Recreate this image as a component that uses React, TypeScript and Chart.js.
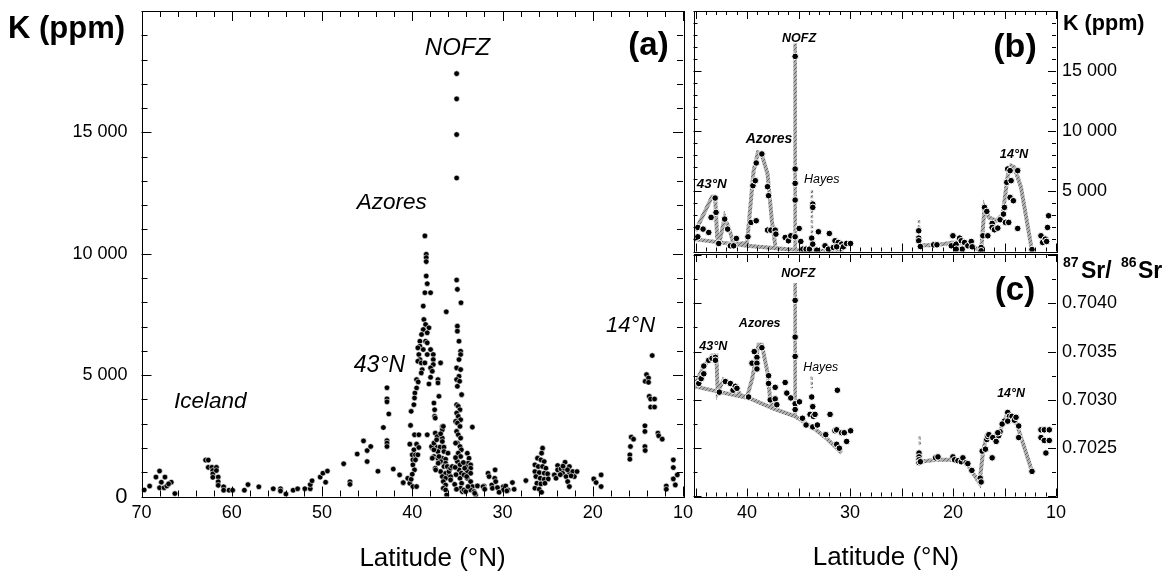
import React, { useEffect, useRef } from 'react';
import { Chart, registerables } from 'chart.js';
Chart.register(...registerables);

const FONT = "'Liberation Sans', Arial, Helvetica, sans-serif";
const W = 1172;
const H = 576;

type P = [number, number];

// ---------- Panel (a): K (ppm) vs latitude ----------
const icelandA: P[] = [
  [69.7, 270], [69.1, 430], [68.4, 800], [68.0, 1050], [67.8, 590], [68.0, 360], [67.5, 360], [67.4, 800],
  [67.2, 430], [66.7, 590], [67.0, 520], [66.3, 120],
  [62.9, 1500], [62.6, 1500], [62.6, 1200], [62.2, 1200], [62.1, 1070], [62.1, 930], [62.1, 790], [61.7, 1200],
  [61.7, 1070], [61.5, 800], [61.5, 610], [61.5, 460], [60.9, 400], [60.9, 260], [60.3, 260], [59.9, 260],
  [58.6, 260], [58.2, 490], [57.0, 400], [55.4, 320], [54.6, 320], [54.6, 230], [54.0, 100], [53.2, 260],
  [52.7, 320], [51.9, 320], [51.3, 320], [51.3, 490], [51.1, 650], [50.2, 800], [49.9, 960], [49.4, 1050], [49.6, 590],
];
const northA: P[] = [
  [47.6, 1350], [46.9, 610], [46.9, 500], [46.1, 1750], [45.4, 2290], [45.0, 1890], [44.6, 2060], [45.0, 1440],
  [43.8, 1040], [43.2, 2840], [42.8, 4480], [42.8, 4020], [42.8, 3900], [42.6, 3400], [42.8, 2300], [42.8, 2200],
  [42.8, 2060], [42.1, 1130], [41.4, 890], [41.0, 570], [40.5, 750], [40.27, 546], [40.12, 712], [39.93, 409], [39.52, 409],
  [39.52, 4815], [39.34, 4719], [39.52, 4471], [39.71, 4264], [39.75, 4058], [39.82, 3782], [40.12, 3507], [40.19, 2929],
  [39.75, 2543], [39.27, 2543], [40.27, 2157], [39.52, 2157], [39.27, 2020], [39.82, 1923], [40.0, 1717], [39.64, 1717],
  [39.38, 1717], [39.93, 1510], [39.64, 1510], [39.93, 1304], [39.75, 1097], [40.0, 918],
];
const azoresA: P[] = [
  [38.6, 10736], [38.45, 9979], [38.45, 9841], [38.45, 9676], [38.45, 9084],
  [38.34, 8767], [38.6, 8395], [37.97, 8395], [38.78, 7844], [38.71, 7294], [38.52, 7087], [38.15, 6949], [38.78, 6880],
  [38.34, 6743], [38.97, 6674], [39.15, 6398], [38.52, 6398], [38.34, 6330], [39.15, 6192], [39.38, 6123], [38.78, 6054],
  [39.27, 5848], [39.15, 5641], [38.34, 5848], [37.97, 6054], [39.38, 5572], [39.0, 5503], [38.6, 5503], [37.67, 5848],
  [37.67, 5641], [37.67, 5435], [38.9, 5228], [39.0, 5090], [37.97, 5297], [37.78, 5159], [37.97, 4912], [37.15, 4815],
  [38.15, 4636], [37.15, 4678], [36.86, 5503], [37.04, 4127], [37.6, 3851], [37.52, 3576], [37.52, 3300], [37.45, 3230],
  [38.34, 2543], [36.23, 7610],
];
const azoresLowA: P[] = [
  [37.45, 2611], [37.23, 2473], [36.67, 2886], [36.67, 2748], [36.67, 2404], [36.67, 2267], [37.23, 1997], [37.45, 2060],
  [36.93, 2032], [36.49, 2032], [37.78, 1991], [37.16, 1853], [36.49, 1853], [37.6, 1647], [37.16, 1578], [36.67, 1578],
  [36.3, 1537], [36.86, 1440], [36.3, 1371], [37.45, 1165], [36.49, 1234], [36.12, 1234], [36.86, 1027], [36.3, 958],
  [35.93, 889], [36.67, 821], [36.3, 752], [35.75, 821], [36.56, 614], [36.3, 476], [36.56, 339], [36.3, 270], [36.19, 63],
  [37.86, 2061], [37.6, 2199], [37.3, 2336], [36.56, 2887], [36.86, 2584], [37.04, 1648], [36.12, 1235], [37.41, 1097],
  [35.93, 1028], [35.75, 1166], [35.56, 1235], [35.75, 684], [36.04, 1786], [37.12, 1373], [37.78, 1579], [37.6, 1923],
];
const nofzA: P[] = [
  [35.08, 17420], [35.08, 16380], [35.08, 14910], [35.08, 13120],
  [35.08, 8918], [35.0, 8533], [34.6, 7982], [35.0, 7018], [35.0, 6812], [34.82, 6398], [34.64, 5985], [34.64, 5848],
  [34.82, 5641], [35.08, 5297], [34.64, 5228], [34.82, 4953], [35.08, 4815], [34.75, 4746], [35.0, 4540], [34.53, 4196],
  [35.08, 3782], [34.9, 3713], [34.71, 3576], [35.08, 3438], [34.9, 3300], [34.64, 3163], [35.19, 3094], [35.0, 3025],
  [34.71, 2887], [35.08, 2681], [34.9, 2543], [34.64, 2405], [35.0, 2199], [34.71, 2061], [34.56, 1923], [34.9, 1786],
  [34.64, 1648], [35.0, 1441], [34.71, 1304], [34.82, 1097], [34.56, 960], [34.71, 753], [34.53, 546], [34.64, 340],
  [34.45, 202], [35.2, 1600], [35.25, 1200], [35.15, 900], [35.3, 500], [35.1, 300], [35.2, 2200],
];
const nofzLowA: P[] = [
  [33.9, 1784], [33.71, 1578], [33.82, 1371], [33.53, 1302], [34.08, 1234], [33.53, 1165], [33.9, 1027], [33.53, 958],
  [34.27, 889], [33.9, 752], [33.53, 614], [33.34, 407], [34.27, 270], [33.53, 270], [34.08, 201], [33.16, 201],
  [32.97, 63], [33.34, 2858], [34.34, 1400], [34.19, 1166], [33.97, 822], [33.82, 409], [32.78, 436], [33.08, 133],
];
const midA: P[] = [
  [32.04, 435], [32.04, 339], [31.6, 958], [31.49, 821], [31.19, 476], [30.86, 752], [30.75, 614], [31.12, 339],
  [30.56, 366], [29.9, 407], [29.9, 270], [29.64, 435], [29.38, 270], [28.9, 573], [28.71, 297], [27.41, 655],
  [32.15, 408], [31.97, 298], [30.82, 1097], [30.38, 175], [29.52, 230],
];
const southA: P[] = [
  [25.56, 1992], [25.67, 1786], [26.12, 1579], [25.75, 1510], [25.38, 1441], [26.41, 1304], [26.04, 1235], [25.56, 1235],
  [25.19, 1166], [26.41, 1028], [25.93, 987], [25.38, 960], [25.0, 932], [26.3, 822], [25.82, 753], [25.38, 712],
  [24.93, 725], [26.19, 546], [25.75, 519], [25.3, 546], [26.41, 340], [25.93, 298], [25.67, 175],
  [24.26, 890], [23.89, 1275], [23.89, 1097], [24.07, 752], [23.52, 1138], [23.33, 958], [23.07, 1413], [23.15, 1165],
  [22.96, 821], [22.59, 1234], [22.59, 1000], [22.78, 614], [22.59, 408], [22.22, 1028], [22.04, 821], [21.74, 1028],
  [23.6, 900], [23.3, 1250], [22.8, 1100], [22.4, 850],
  [19.89, 724], [19.63, 573], [19.07, 890], [19.07, 408],
  [15.89, 1716], [15.89, 1537], [15.82, 2060], [15.74, 2446], [15.48, 2363], [14.22, 2914], [14.22, 2680], [14.22, 2060],
  [14.19, 1895], [14.19, 4745], [14.04, 5021], [13.82, 4883], [13.82, 4704], [13.74, 4126], [13.59, 4016], [13.15, 4016],
  [13.59, 3685], [13.15, 3685], [13.41, 5806], [12.78, 2611], [12.7, 2501], [12.3, 2363],
  [11.85, 435], [11.85, 298], [11.07, 1509], [11.07, 1193], [11.07, 725], [10.85, 477], [10.63, 890],
];

// ---------- Panel (b): K (ppm), smoothed ----------
const pointsB: P[] = [
  [44.78, 2000], [44.78, 1222], [44.27, 1862], [43.72, 1584], [43.49, 2834], [43.1, 4445], [43.01, 3251], [42.75, 667],
  [42.17, 2695], [41.88, 1862], [41.62, 473], [41.3, 473], [41.04, 1084], [39.91, 1222], [39.62, 2417], [39.11, 2556],
  [39.43, 5473], [39.2, 5890], [39.11, 7362], [38.56, 8112], [38.01, 5390], [37.91, 4640], [38.01, 1778], [37.69, 1778],
  [37.27, 1778], [37.2, 1445], [36.3, 1167], [35.98, 890], [35.75, 1306], [35.33, 16224], [35.33, 6862], [35.33, 5668],
  [35.33, 4279], [35.33, 1222], [34.94, 1917], [34.78, 834], [34.59, 195], [34.27, 195], [33.94, 195], [33.62, 3945],
  [33.62, 3668], [33.72, 1111], [33.62, 612], [33.23, 112], [33.07, 1640], [32.43, 473], [32.01, 1500], [32.1, 195],
  [31.62, 334], [31.46, 890], [31.14, 751], [30.81, 612], [30.65, 390], [30.33, 668], [31.3, 390], [29.95, 668],
  [23.33, 1723], [23.33, 1112], [23.33, 890], [23.17, 417], [21.88, 556], [21.56, 556], [20.01, 1306], [20.17, 472],
  [19.69, 612], [19.36, 1112], [19.2, 890], [18.88, 751], [18.56, 472], [19.11, 195], [19.69, 195], [18.23, 834],
  [18.14, 389], [17.27, 334], [17.27, 60], [16.94, 3668], [16.72, 3334], [17.1, 1306], [16.62, 1306], [16.2, 2335],
  [16.2, 2000], [15.98, 1807], [15.65, 1945], [15.43, 2640], [15.1, 3112], [15.01, 3668], [14.91, 2418], [14.78, 5751],
  [14.69, 6862], [14.46, 6723], [14.36, 5890], [14.46, 4501], [14.59, 2418], [14.14, 4223], [13.72, 6723], [13.72, 1918],
  [12.33, 167], [11.46, 1306], [11.3, 751], [11.04, 1028], [10.82, 2000], [10.72, 2973], [10.91, 834],
];
const baselineB: P[] = [[45.2, 1030], [40.0, 480], [35.2, 120], [30.6, 0]];
const envelopeB: P[] = [
  [45.0, 1724], [43.4, 4560], [43.1, 4560], [42.9, 1170], [42.65, 890], [42.17, 2835], [41.68, 1724], [41.3, 612],
  [40.0, 700], [39.36, 6724], [38.94, 8252], [38.62, 8196], [38.01, 6446], [37.59, 2557], [37.26, 474],
];
const nofzLineB: P[] = [[35.33, 150], [35.33, 17300]];
const hayesLineB: P[] = [[33.7, 5100], [33.7, 1400]];
const tick23B: P[] = [[23.3, 2600], [23.3, 900]];
const southLineB: P[] = [
  [23.3, 520], [21.7, 520], [20.0, 750], [18.5, 600], [17.27, 40], [16.94, 3668], [16.52, 2834], [15.8, 2556],
  [15.17, 3112], [14.69, 6307], [14.36, 7140], [14.04, 7001], [13.4, 5334], [12.33, 56],
];

// ---------- Panel (c): 87Sr/86Sr ----------
const pointsC: P[] = [
  [44.69, 0.70317], [44.46, 0.70322], [44.2, 0.70327], [44.2, 0.70335], [43.72, 0.70341], [43.4, 0.70343], [43.07, 0.70344],
  [43.07, 0.70341], [42.69, 0.70308], [42.11, 0.70319], [41.62, 0.70317], [41.36, 0.7031], [41.14, 0.70314], [40.98, 0.70312],
  [39.85, 0.70303], [39.52, 0.70338], [39.3, 0.7035], [39.04, 0.70344], [39.04, 0.70338], [39.04, 0.70332], [38.56, 0.70354],
  [37.91, 0.70325], [37.91, 0.70317], [37.27, 0.70313], [37.75, 0.703], [37.27, 0.70301], [37.11, 0.70295], [36.3, 0.70318],
  [36.14, 0.70307], [35.75, 0.70302], [35.33, 0.70296], [35.33, 0.7029], [35.33, 0.70403], [35.33, 0.70365], [35.33, 0.70345],
  [34.91, 0.70298], [34.62, 0.70281], [34.27, 0.70274], [33.72, 0.70303], [33.62, 0.70293], [33.88, 0.70285], [33.56, 0.70283],
  [33.4, 0.70285], [33.62, 0.70272], [33.17, 0.70274], [32.36, 0.70264], [31.94, 0.70285], [31.46, 0.70268], [31.3, 0.70269],
  [31.23, 0.7031], [31.3, 0.70254], [31.04, 0.7025], [30.81, 0.70266], [30.56, 0.70266], [30.33, 0.70257], [29.94, 0.70268],
  [23.3, 0.70245], [23.3, 0.70241], [23.3, 0.70238], [23.3, 0.70235], [23.17, 0.70236], [21.69, 0.7024], [21.46, 0.70241],
  [20.01, 0.70241], [19.85, 0.70238], [19.52, 0.70237], [19.2, 0.70236], [19.04, 0.7024], [18.72, 0.70235], [18.56, 0.70234],
  [18.17, 0.70227], [17.36, 0.70219], [17.27, 0.70215], [17.17, 0.70247], [16.85, 0.70249], [16.2, 0.7024], [16.72, 0.70259],
  [16.62, 0.70262], [16.52, 0.70264], [16.14, 0.70261], [15.81, 0.70257], [15.56, 0.70263], [15.43, 0.70267], [15.65, 0.70266],
  [15.01, 0.70278], [14.69, 0.70287], [14.52, 0.70283], [14.27, 0.70283], [14.04, 0.70279], [13.88, 0.70282], [13.62, 0.70273],
  [13.62, 0.70261], [15.23, 0.70275], [14.69, 0.70278], [12.33, 0.70226], [11.46, 0.70269], [11.14, 0.70269], [10.65, 0.70269],
  [11.46, 0.70261], [11.14, 0.70258], [10.65, 0.70258], [10.98, 0.70245],
];
const baselineC: P[] = [
  [45.1, 0.70314], [42.59, 0.70308], [39.85, 0.70302], [37.43, 0.70291], [35.33, 0.70283], [33.56, 0.70271],
  [32.27, 0.7026], [30.81, 0.70245],
];
const envelopeC: P[] = [
  [44.91, 0.70319], [44.2, 0.70335], [43.4, 0.70346], [42.98, 0.70346], [42.85, 0.70308], [42.27, 0.70321], [41.14, 0.70314],
  [40.65, 0.70305], [40.01, 0.70303], [39.52, 0.70321], [38.88, 0.70357], [38.56, 0.70357], [38.01, 0.70328], [37.75, 0.703],
  [37.43, 0.70291],
];
const nofzLineC: P[] = [[35.33, 0.70421], [35.33, 0.70283]];
const hayesLineC: P[] = [[33.72, 0.70324], [33.72, 0.70312]];
const tick23C: P[] = [[23.23, 0.70262], [23.23, 0.70252]];
const southLineC: P[] = [
  [23.3, 0.70236], [21.62, 0.70238], [19.85, 0.70238], [18.72, 0.70235], [17.43, 0.70214], [17.1, 0.70245], [16.78, 0.70262],
  [16.14, 0.70262], [15.49, 0.70267], [14.69, 0.70286], [14.2, 0.70284], [13.72, 0.70272], [12.33, 0.70226],
];

const kTicksA = [0, 5000, 10000, 15000];
const kTicksB = [5000, 10000, 15000];
const latTicksA = [70, 60, 50, 40, 30, 20, 10];
const latTicksC = [40, 30, 20, 10];
const srTicksC = [0.7025, 0.703, 0.7035, 0.704];

const xy = (arr: P[]) => arr.map(([x, y]) => ({ x, y }));
const fmtK = (v: number) => (v >= 1000 ? `${Math.floor(v / 1000)} ${String(Math.round(v % 1000)).padStart(3, '0')}` : String(v));

type TextItem = { t: string; x: number; y: number; size: number; bold?: boolean; italic?: boolean; align?: CanvasTextAlign };
type TickCfg = { xStep: number; xMajor: number; yStep: number; yMajor: number; majLen: number; minLen: number };

function framePlugin(cfg: TickCfg, texts: TextItem[]) {
  return {
    id: 'frameTicks',
    afterDraw(chart: any) {
      const { ctx, chartArea: a, scales } = chart;
      const xs = scales.x;
      const ys = scales.y;
      ctx.save();
      ctx.strokeStyle = '#000';
      ctx.lineWidth = 1;
      ctx.strokeRect(Math.round(a.left) + 0.5, Math.round(a.top) + 0.5, Math.round(a.right - a.left), Math.round(a.bottom - a.top));
      ctx.beginPath();
      const xn0 = Math.ceil(Math.min(xs.min, xs.max) / cfg.xStep - 1e-6);
      const xn1 = Math.floor(Math.max(xs.min, xs.max) / cfg.xStep + 1e-6);
      for (let n = xn0; n <= xn1; n++) {
        const v = n * cfg.xStep;
        const px = Math.round(xs.getPixelForValue(v)) + 0.5;
        const r = v / cfg.xMajor;
        const L = Math.abs(r - Math.round(r)) < 1e-6 ? cfg.majLen : cfg.minLen;
        ctx.moveTo(px, a.top);
        ctx.lineTo(px, a.top + L);
        ctx.moveTo(px, a.bottom);
        ctx.lineTo(px, a.bottom - L);
      }
      const yn0 = Math.ceil(ys.min / cfg.yStep - 1e-6);
      const yn1 = Math.floor(ys.max / cfg.yStep + 1e-6);
      for (let n = yn0; n <= yn1; n++) {
        const v = n * cfg.yStep;
        const py = Math.round(ys.getPixelForValue(v)) + 0.5;
        const r = v / cfg.yMajor;
        const L = Math.abs(r - Math.round(r)) < 1e-4 ? cfg.majLen : cfg.minLen;
        ctx.moveTo(a.left, py);
        ctx.lineTo(a.left + L, py);
        ctx.moveTo(a.right, py);
        ctx.lineTo(a.right - L, py);
      }
      ctx.stroke();
      ctx.fillStyle = '#000';
      ctx.textBaseline = 'alphabetic';
      for (const it of texts) {
        ctx.font = `${it.italic ? 'italic ' : ''}${it.bold ? 'bold ' : ''}${it.size}px ${FONT}`;
        ctx.textAlign = it.align || 'center';
        ctx.fillText(it.t, it.x, it.y);
      }
      ctx.restore();
    },
  };
}

function makeHatch(): any {
  const c = document.createElement('canvas');
  c.width = 4;
  c.height = 4;
  const g = c.getContext('2d');
  if (!g) return '#9a9a9a';
  g.fillStyle = '#b0b0b0';
  g.fillRect(0, 0, 4, 4);
  g.fillStyle = '#666666';
  for (let i = 0; i < 4; i++) g.fillRect(i, 3 - i, 1, 1);
  return g.createPattern(c, 'repeat') || '#9a9a9a';
}

const tickFont = (size: number) => ({ family: FONT, size });
const setTicks = (vals: number[]) => (s: any) => { s.ticks = vals.map((value) => ({ value })); };
const fixY = (width: number) => (s: any) => { s.width = width; s.paddingTop = 0; s.paddingBottom = 0; };
const fixX = (height: number) => (s: any) => { s.height = height; s.paddingLeft = 0; s.paddingRight = 0; };

function baseOptions(padding: any, xCfg: any, yCfg: any) {
  return {
    responsive: false,
    animation: false as const,
    events: [] as any[],
    layout: { padding },
    plugins: { legend: { display: false }, tooltip: { enabled: false } },
    scales: { x: xCfg, y: yCfg },
  };
}

function lineDs(data: P[], hatch: any, width = 4, dash: number[] = []) {
  return {
    data: xy(data),
    showLine: true,
    pointRadius: 0,
    borderColor: hatch,
    borderWidth: width,
    borderDash: dash,
    fill: false,
    order: 2,
    tension: 0,
  };
}

const noGrid = { grid: { display: false, drawTicks: false }, border: { display: false } };

export default function App() {
  const refA = useRef<HTMLCanvasElement>(null);
  const refB = useRef<HTMLCanvasElement>(null);
  const refC = useRef<HTMLCanvasElement>(null);

  useEffect(() => {
    const hatch = makeHatch();
    const allA = [...icelandA, ...northA, ...azoresA, ...azoresLowA, ...nofzA, ...nofzLowA, ...midA, ...southA];

    const chartA = new Chart(refA.current as HTMLCanvasElement, {
      type: 'scatter',
      data: {
        datasets: [
          { data: xy(allA), pointRadius: 2.8, pointBackgroundColor: '#000', pointBorderColor: '#fff', pointBorderWidth: 0.6 } as any,
        ],
      },
      options: baseOptions(
        { left: 0, right: W - 683, top: 11, bottom: 0 },
        {
          type: 'linear', reverse: true, min: 10, max: 70, ...noGrid,
          ticks: { padding: 6, color: '#000', font: tickFont(18), maxRotation: 0, autoSkip: false, callback: (v: any) => String(v) },
          afterBuildTicks: setTicks(latTicksA),
          afterFit: fixX(H - 496.5),
        },
        {
          type: 'linear', min: 0, max: 20000, ...noGrid,
          ticks: { padding: 14, color: '#000', autoSkip: false,
            font: (c: any) => tickFont(c.tick && c.tick.value === 0 ? 22 : 18),
            callback: (v: any) => fmtK(Number(v)) },
          afterBuildTicks: setTicks(kTicksA),
          afterFit: fixY(141.5),
        },
      ) as any,
      plugins: [
        framePlugin({ xStep: 2, xMajor: 10, yStep: 1000, yMajor: 5000, majLen: 10, minLen: 6 }, [
          { t: 'K (ppm)', x: 8, y: 37.5, size: 31, bold: true, align: 'left' },
          { t: 'NOFZ', x: 457.5, y: 55, size: 24, italic: true },
          { t: '(a)', x: 648.5, y: 55, size: 33, bold: true },
          { t: 'Azores', x: 391.7, y: 209, size: 22.5, italic: true },
          { t: '43°N', x: 379.5, y: 371.5, size: 23, italic: true },
          { t: '14°N', x: 630.5, y: 331.5, size: 22, italic: true },
          { t: 'Iceland', x: 210.3, y: 407.5, size: 22.5, italic: true },
          { t: 'Latitude (°N)', x: 432.5, y: 566, size: 26 },
        ]),
      ],
    });

    const dotStyle = { pointRadius: 3.3, pointBackgroundColor: '#000', pointBorderColor: '#fff', pointBorderWidth: 1, order: 1 };

    const chartB = new Chart(refB.current as HTMLCanvasElement, {
      type: 'scatter',
      data: {
        datasets: [
          { data: xy(pointsB), ...dotStyle } as any,
          lineDs(baselineB, hatch),
          lineDs(envelopeB, hatch),
          lineDs(nofzLineB, hatch, 3.5),
          lineDs(hayesLineB, hatch, 2.5, [3, 2]),
          lineDs(tick23B, hatch, 2.5, [3, 2]),
          lineDs(southLineB, hatch),
        ] as any,
      },
      options: baseOptions(
        { left: 693.5, right: 0, top: 11, bottom: 0 },
        {
          type: 'linear', reverse: true, min: 10, max: 45.2, ...noGrid,
          ticks: { display: false },
          afterBuildTicks: setTicks(latTicksC),
          afterFit: fixX(H - 251.5),
        },
        {
          type: 'linear', position: 'right', min: 0, max: 20000, ...noGrid,
          ticks: { padding: 6, color: '#000', font: tickFont(18), autoSkip: false, callback: (v: any) => fmtK(Number(v)) },
          afterBuildTicks: setTicks(kTicksB),
          afterFit: fixY(W - 1056),
        },
      ) as any,
      plugins: [
        framePlugin({ xStep: 1, xMajor: 5, yStep: 1000, yMajor: 5000, majLen: 8, minLen: 4 }, [
          { t: '(b)', x: 1015, y: 57, size: 34, bold: true },
          { t: 'NOFZ', x: 799, y: 41.7, size: 12.5, bold: true, italic: true },
          { t: 'Azores', x: 769, y: 143.3, size: 14, bold: true, italic: true },
          { t: '43°N', x: 711.7, y: 188, size: 13.4, bold: true, italic: true },
          { t: 'Hayes', x: 821.7, y: 183, size: 12.5, italic: true },
          { t: '14°N', x: 1014, y: 158.3, size: 12.7, bold: true, italic: true },
          { t: 'K (ppm)', x: 1063, y: 30, size: 21.6, bold: true, align: 'left' },
        ]),
      ],
    });

    const chartC = new Chart(refC.current as HTMLCanvasElement, {
      type: 'scatter',
      data: {
        datasets: [
          { data: xy(pointsC), ...dotStyle } as any,
          lineDs(baselineC, hatch),
          lineDs(envelopeC, hatch),
          lineDs(nofzLineC, hatch, 3.5),
          lineDs(hayesLineC, hatch, 2.5, [3, 2]),
          lineDs(tick23C, hatch, 2.5, [3, 2]),
          lineDs(southLineC, hatch),
        ] as any,
      },
      options: baseOptions(
        { left: 693.5, right: 0, top: 254, bottom: 0 },
        {
          type: 'linear', reverse: true, min: 10, max: 45.2, ...noGrid,
          ticks: { padding: 6, color: '#000', font: tickFont(18), maxRotation: 0, autoSkip: false, callback: (v: any) => String(v) },
          afterBuildTicks: setTicks(latTicksC),
          afterFit: fixX(H - 496.5),
        },
        {
          type: 'linear', position: 'right', min: 0.702, max: 0.70451, ...noGrid,
          ticks: { padding: 6, color: '#000', font: tickFont(18), autoSkip: false, callback: (v: any) => Number(v).toFixed(4) },
          afterBuildTicks: setTicks(srTicksC),
          afterFit: fixY(W - 1056),
        },
      ) as any,
      plugins: [
        framePlugin({ xStep: 1, xMajor: 5, yStep: 0.00025, yMajor: 0.0005, majLen: 8, minLen: 4 }, [
          { t: '(c)', x: 1015, y: 300, size: 33, bold: true },
          { t: 'NOFZ', x: 798.3, y: 277.3, size: 12.5, bold: true, italic: true },
          { t: 'Azores', x: 759.7, y: 326.7, size: 12.5, bold: true, italic: true },
          { t: '43°N', x: 713.3, y: 350, size: 12.5, bold: true, italic: true },
          { t: 'Hayes', x: 820.8, y: 371, size: 12.3, italic: true },
          { t: '14°N', x: 1011, y: 396.7, size: 12.4, bold: true, italic: true },
          { t: '87', x: 1063, y: 267, size: 14, bold: true, align: 'left' },
          { t: 'Sr/', x: 1081, y: 277.5, size: 23, bold: true, align: 'left' },
          { t: '86', x: 1121, y: 267, size: 14, bold: true, align: 'left' },
          { t: 'Sr', x: 1138, y: 277.5, size: 23, bold: true, align: 'left' },
          { t: 'Latitude (°N)', x: 885.8, y: 565, size: 26 },
        ]),
      ],
    });

    return () => {
      chartA.destroy();
      chartB.destroy();
      chartC.destroy();
    };
  }, []);

  const canvasStyle: React.CSSProperties = { position: 'absolute', left: 0, top: 0, width: W, height: H };
  return (
    <div style={{ position: 'absolute', left: 0, top: 0, width: W, height: H, background: '#fff', overflow: 'hidden' }}>
      <canvas ref={refA} width={W} height={H} style={canvasStyle} />
      <canvas ref={refB} width={W} height={H} style={canvasStyle} />
      <canvas ref={refC} width={W} height={H} style={canvasStyle} />
    </div>
  );
}
